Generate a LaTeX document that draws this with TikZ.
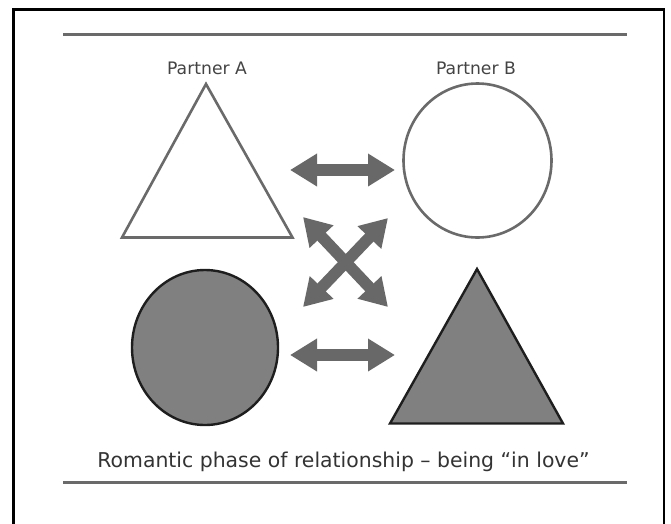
\documentclass[tikz,border=0pt]{standalone}
\usepackage{fontspec}
\setmainfont{DejaVu Sans}
\usetikzlibrary{arrows.meta,shapes.geometric}
\definecolor{arrowgray}{HTML}{686868}
\definecolor{outlinegray}{HTML}{6A6A6A}
\definecolor{fillgray}{HTML}{808080}
\definecolor{darkline}{HTML}{1E1E1E}
\definecolor{textgray}{HTML}{333333}
\definecolor{labelgray}{HTML}{444444}
\tikzset{
  frameline/.style={line width=2.6pt, black},
  ruleline/.style={line width=3pt, color=outlinegray},
  openshape/.style={line width=2.6pt, draw=outlinegray, fill=white},
  solidshape/.style={line width=2.4pt, draw=darkline, fill=fillgray},
  bigarrow/.style={line width=11.5pt, color=arrowgray,
    {Triangle[length=27pt,width=31pt]}-{Triangle[length=27pt,width=31pt]}},
  partnerlabel/.style={font=\fontsize{17.2}{20}\selectfont, text=labelgray, inner sep=0pt},
  captionlabel/.style={font=\fontsize{20.4}{24}\selectfont, text=textgray, inner sep=0pt}
}
\begin{document}
\begin{tikzpicture}[x=1pt,y=-1pt]
\useasboundingbox (0,0) rectangle (671,523);
% frame
\draw[frameline] (13.5,530) -- (13.5,9.2) -- (663.8,9.2) -- (663.8,530);
% rules
\coordinate (r1l) at (63,34);
\coordinate (r1r) at (627,34);
\coordinate (r2l) at (63,482);
\coordinate (r2r) at (627,482);
\draw[ruleline] (r1l) -- (r1r);
\draw[ruleline] (r2l) -- (r2r);
% labels
\node[partnerlabel] (labA) at (207,68.5) {Partner A};
\node[partnerlabel] (labB) at (476,68.5) {Partner B};
% triangle A (open)
\coordinate (tAtop) at (206,84);
\coordinate (tAl) at (122,237.5);
\coordinate (tAr) at (292.5,237.5);
\draw[openshape, line join=miter] (tAtop) -- (tAl) -- (tAr) -- cycle;
% circle B (open)
\node[openshape, ellipse, minimum width=148pt, minimum height=154pt, inner sep=0pt] (cB) at (477.5,160.5) {};
% circle bottom-left (solid)
\node[solidshape, ellipse, minimum width=146pt, minimum height=155pt, inner sep=0pt] (cA2) at (205,347.5) {};
% triangle bottom-right (solid)
\coordinate (tBtop) at (477,269);
\coordinate (tBl) at (390,423.5);
\coordinate (tBr) at (563,423.5);
\draw[solidshape, line join=miter] (tBtop) -- (tBl) -- (tBr) -- cycle;
% arrows
\coordinate (a1l) at (290,170);
\coordinate (a1r) at (395,170);
\coordinate (a2l) at (290,355);
\coordinate (a2r) at (395,355);
\coordinate (xtl) at (303,217);
\coordinate (xtr) at (388,218);
\coordinate (xbl) at (303,307);
\coordinate (xbr) at (388,307);
\draw[bigarrow] (a1l) -- (a1r);
\draw[bigarrow] (a2l) -- (a2r);
\draw[bigarrow] (xtl) -- (xbr);
\draw[bigarrow] (xtr) -- (xbl);
% caption
\node[captionlabel] (cap) at (343.5,462) {Romantic phase of relationship – being “in love”};
\end{tikzpicture}
\end{document}
